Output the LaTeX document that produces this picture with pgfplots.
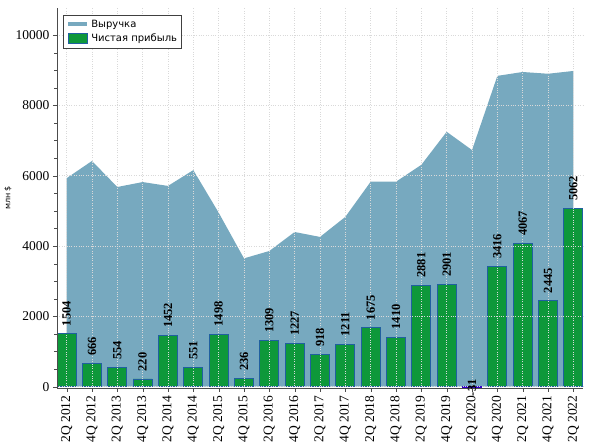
\documentclass[border=0pt]{standalone}
\usepackage{pgfplots}
\pgfplotsset{compat=1.18}
\usepackage{fontspec}
\newfontfamily\dejavu{DejaVu Sans}
\newfontfamily\timesf{Liberation Serif}
\definecolor{areac}{RGB}{119,169,191}
\definecolor{barg}{RGB}{14,152,58}
\definecolor{bare}{RGB}{32,96,160}
\pgfkeys{/pgf/number format/1000 sep={}}
\begin{document}
\begin{tikzpicture}
\begin{axis}[
  at={(0,0)}, anchor=south west,
  scale only axis, width=526pt, height=380pt,
  xmin=-0.38, xmax=20.38,
  ymin=-36, ymax=10770,
  axis x line*=bottom, axis y line*=left,
  axis line style={black!70, line width=0.8pt},
  tick align=outside,
  major tick length=4pt, minor tick length=2.5pt,
  tick style={black!70},
  xtick={0,...,20},
  xticklabels={2Q 2012,4Q 2012,2Q 2013,4Q 2013,2Q 2014,4Q 2014,2Q 2015,4Q 2015,2Q 2016,4Q 2016,2Q 2017,4Q 2017,2Q 2018,4Q 2018,2Q 2019,4Q 2019,2Q 2020,4Q 2020,2Q 2021,4Q 2021,2Q 2022},
  x tick label style={rotate=90, anchor=east, font=\fontsize{13.5}{14}\timesf},
  ytick={0,2000,...,10000},
  minor y tick num=3,
  y tick label style={font=\fontsize{13.5}{14}\timesf},
  /pgf/number format/assume math mode=true,
  scaled y ticks=false,
  grid=major,
  major grid style={black!15, dotted, line width=0.6pt},
  axis on top,
  ylabel={\dejavu\fontsize{8}{9}\selectfont млн \$},
  ylabel style={at={(rel axis cs:0,0.5)}, yshift=42pt},
  legend style={at={(0,1)}, anchor=north west, xshift=6pt, yshift=-7pt,
    draw=black!75, line width=0.6pt, font=\dejavu\fontsize{10}{12.5}\selectfont,
    row sep=1.5pt, inner sep=2.5pt, cells={anchor=west}},
  legend cell align=left,
]
\addplot[draw=none, fill=areac,
  legend image code/.code={\draw[areac, line width=4.5pt] (0pt,0pt) -- (19pt,0pt);}]
 coordinates {(0,5930) (1,6420) (2,5680) (3,5820) (4,5710) (5,6160) (6,4950) (7,3650) (8,3860) (9,4400) (10,4260) (11,4830) (12,5830) (13,5830) (14,6310) (15,7250) (16,6730) (17,8840) (18,8950) (19,8900) (20,8980)} \closedcycle;
\addlegendentry{Выручка}
\addplot[ybar, bar width=0.75, fill=barg, draw=bare, line width=0.8pt,
  nodes near coords,
  every node near coord/.append style={rotate=90, anchor=west, xshift=4pt, font=\fontsize{12.5}{13}\timesf\bfseries, black},
  legend image code/.code={\draw[fill=barg, draw=bare, line width=0.8pt] (0pt,-5pt) rectangle (19pt,5pt);}]
 coordinates {(0,1504) (1,666) (2,554) (3,220) (4,1452) (5,551) (6,1498) (7,236) (8,1309) (9,1227) (10,918) (11,1211) (12,1675) (13,1410) (14,2881) (15,2901) (17,3416) (18,4067) (19,2445) (20,5062)};
\addlegendentry{Чистая прибыль}
\addplot[ybar, bar width=0.75, fill=barg, draw=blue!60!violet, line width=1pt, forget plot,
  nodes near coords,
  every node near coord/.append style={rotate=90, anchor=center, xshift=0pt, font=\fontsize{12.5}{13}\timesf\bfseries, black}]
 coordinates {(16,-31)};
\end{axis}
\pgfresetboundingbox
\path (-57pt,-55pt) rectangle (533pt,388pt);
\end{tikzpicture}
\end{document}
